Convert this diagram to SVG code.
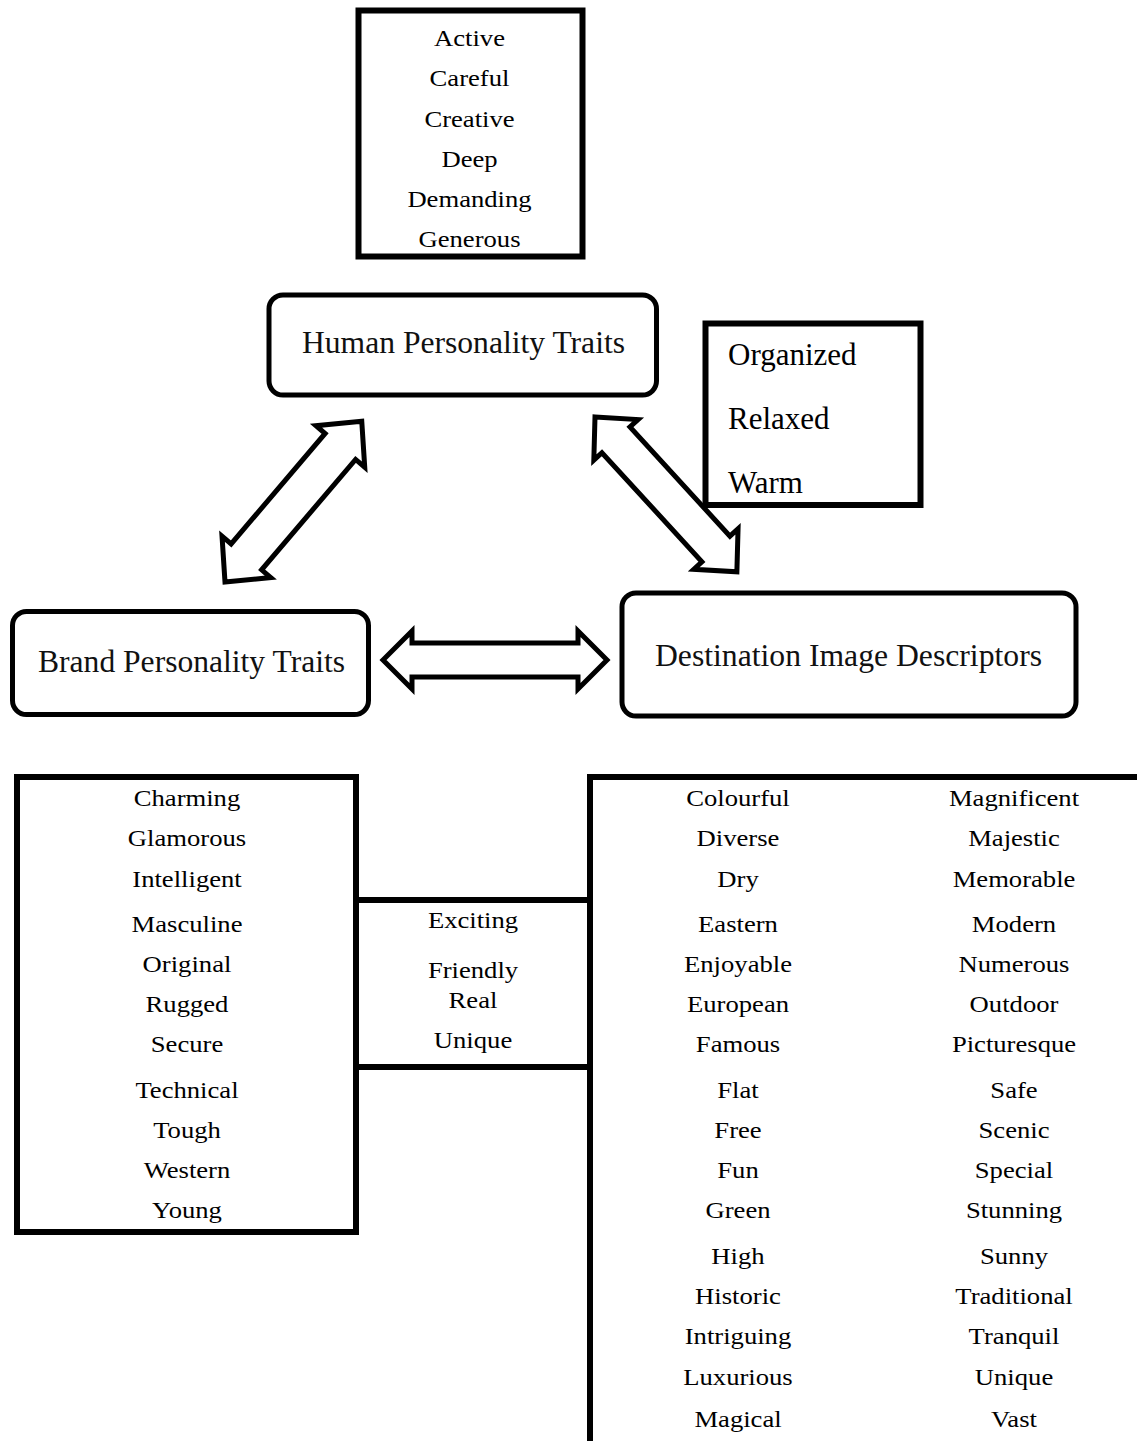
<svg xmlns="http://www.w3.org/2000/svg" width="1137" height="1441" viewBox="0 0 1137 1441">
  <style>
    .bg { fill: #ffffff; }
    .box { fill: none; stroke: #000; stroke-width: 6; }
    .node { fill: #fff; stroke: #000; stroke-width: 5; }
    .rule { fill: none; stroke: #000; stroke-width: 6; }
    .arrow { fill: #fff; stroke: #000; stroke-width: 5; stroke-linejoin: miter; }
    .item { font-family: "Liberation Serif", "Times New Roman", serif; font-size: 24px; fill: #000; text-anchor: middle; }
    .big { font-family: "Liberation Serif", "Times New Roman", serif; font-size: 31px; fill: #000; }
    .title { font-family: "Liberation Serif", "Times New Roman", serif; font-size: 31px; fill: #111; }
  </style>
  <defs>
    <!-- double-headed block arrow, tip at origin, pointing along +x -->
    <path id="darrowH" d="M0,0 L29,-29 L29,-17 L195,-17 L195,-29 L224,0 L195,29 L195,17 L29,17 L29,29 Z"/>
    <path id="darrowL" d="M0,0 L33,-32 L33,-20 L178,-20 L178,-32 L211,0 L178,32 L178,20 L33,20 L33,32 Z"/>
    <path id="darrowR" d="M0,0 L31,-30 L31,-19 L179,-19 L179,-30 L210,0 L179,30 L179,19 L31,19 L31,30 Z"/>
  </defs>

  <rect class="bg" x="0" y="0" width="1137" height="1441"/>

  <!-- connectors -->
  <g id="connectors">
    <use href="#darrowL" class="arrow" transform="translate(225,582) rotate(-49.6)"/>
    <use href="#darrowR" class="arrow" transform="translate(595,417) rotate(47.5)"/>
    <use href="#darrowH" class="arrow" transform="translate(383,660)"/>
  </g>

  <!-- human personality trait words -->
  <g id="human-traits">
    <rect class="box" x="358.5" y="10.5" width="224" height="246"/>
    <g transform="translate(469.5,0) scale(1.11,1)">
      <text class="item" x="0" y="46">Active</text>
      <text class="item" x="0" y="86">Careful</text>
      <text class="item" x="0" y="127">Creative</text>
      <text class="item" x="0" y="167">Deep</text>
      <text class="item" x="0" y="207">Demanding</text>
      <text class="item" x="0" y="247">Generous</text>
    </g>
  </g>

  <g id="human-node">
    <rect class="node" x="269" y="295" width="387.5" height="100" rx="14"/>
    <text class="title" x="302" y="353" textLength="323" lengthAdjust="spacingAndGlyphs">Human Personality Traits</text>
  </g>

  <g id="shared-human-destination">
    <rect class="box" x="705.5" y="323.5" width="215" height="181.5"/>
    <text class="big" x="728" y="365">Organized</text>
    <text class="big" x="728" y="429">Relaxed</text>
    <text class="big" x="728" y="493">Warm</text>
  </g>

  <g id="brand-node">
    <rect class="node" x="12.5" y="611.5" width="356" height="103" rx="14"/>
    <text class="title" x="38" y="672" textLength="307" lengthAdjust="spacingAndGlyphs">Brand Personality Traits</text>
  </g>

  <g id="destination-node">
    <rect class="node" x="622" y="593" width="454" height="123" rx="14"/>
    <text class="title" x="655" y="666" textLength="387" lengthAdjust="spacingAndGlyphs">Destination Image Descriptors</text>
  </g>

  <!-- brand personality trait words -->
  <g id="brand-traits">
    <rect class="box" x="17" y="777" width="339" height="455"/>
    <g transform="translate(187,0) scale(1.11,1)">
      <text class="item" x="0" y="806">Charming</text>
      <text class="item" x="0" y="846">Glamorous</text>
      <text class="item" x="0" y="887">Intelligent</text>
      <text class="item" x="0" y="932">Masculine</text>
      <text class="item" x="0" y="972">Original</text>
      <text class="item" x="0" y="1012">Rugged</text>
      <text class="item" x="0" y="1052">Secure</text>
      <text class="item" x="0" y="1098">Technical</text>
      <text class="item" x="0" y="1138">Tough</text>
      <text class="item" x="0" y="1178">Western</text>
      <text class="item" x="0" y="1218">Young</text>
    </g>
  </g>

  <!-- words shared by brand traits and destination descriptors -->
  <g id="shared-brand-destination">
    <line class="rule" x1="356" y1="900" x2="590" y2="900"/>
    <line class="rule" x1="356" y1="1067" x2="590" y2="1067"/>
    <g transform="translate(473,0) scale(1.11,1)">
      <text class="item" x="0" y="928">Exciting</text>
      <text class="item" x="0" y="978">Friendly</text>
      <text class="item" x="0" y="1008">Real</text>
      <text class="item" x="0" y="1048">Unique</text>
    </g>
  </g>

  <!-- destination image descriptor words -->
  <g id="destination-descriptors">
    <polyline class="rule" points="590,1441 590,777 1137,777"/>
    <g transform="translate(738,0) scale(1.11,1)">
      <text class="item" x="0" y="806">Colourful</text>
      <text class="item" x="0" y="846">Diverse</text>
      <text class="item" x="0" y="887">Dry</text>
      <text class="item" x="0" y="932">Eastern</text>
      <text class="item" x="0" y="972">Enjoyable</text>
      <text class="item" x="0" y="1012">European</text>
      <text class="item" x="0" y="1052">Famous</text>
      <text class="item" x="0" y="1098">Flat</text>
      <text class="item" x="0" y="1138">Free</text>
      <text class="item" x="0" y="1178">Fun</text>
      <text class="item" x="0" y="1218">Green</text>
      <text class="item" x="0" y="1264">High</text>
      <text class="item" x="0" y="1304">Historic</text>
      <text class="item" x="0" y="1344">Intriguing</text>
      <text class="item" x="0" y="1385">Luxurious</text>
      <text class="item" x="0" y="1427">Magical</text>
    </g>
    <g transform="translate(1014,0) scale(1.11,1)">
      <text class="item" x="0" y="806">Magnificent</text>
      <text class="item" x="0" y="846">Majestic</text>
      <text class="item" x="0" y="887">Memorable</text>
      <text class="item" x="0" y="932">Modern</text>
      <text class="item" x="0" y="972">Numerous</text>
      <text class="item" x="0" y="1012">Outdoor</text>
      <text class="item" x="0" y="1052">Picturesque</text>
      <text class="item" x="0" y="1098">Safe</text>
      <text class="item" x="0" y="1138">Scenic</text>
      <text class="item" x="0" y="1178">Special</text>
      <text class="item" x="0" y="1218">Stunning</text>
      <text class="item" x="0" y="1264">Sunny</text>
      <text class="item" x="0" y="1304">Traditional</text>
      <text class="item" x="0" y="1344">Tranquil</text>
      <text class="item" x="0" y="1385">Unique</text>
      <text class="item" x="0" y="1427">Vast</text>
    </g>
  </g>
</svg>
